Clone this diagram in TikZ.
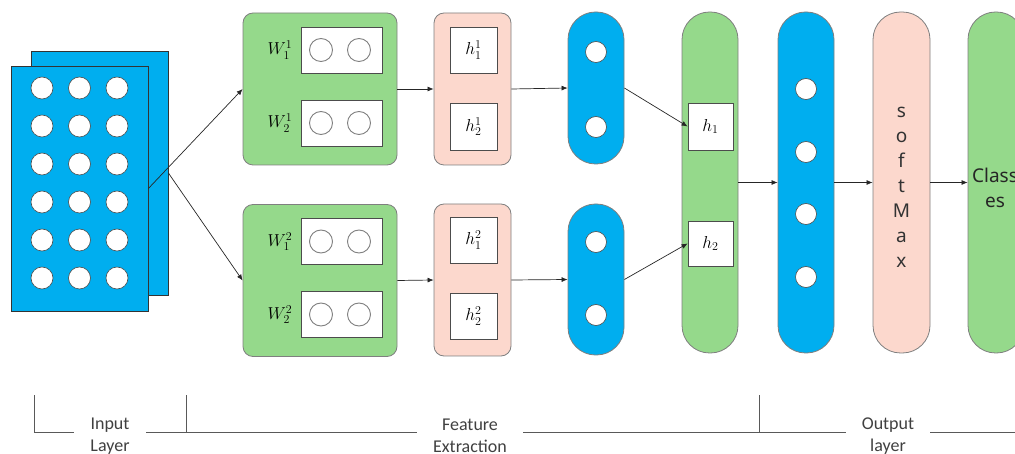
\documentclass[tikz,border=0pt]{standalone}
\usepackage{fontspec}
\setmainfont{Carlito}
\newfontfamily\pillfont{Noto Sans}
\usetikzlibrary{arrows.meta}
\definecolor{cblue}{HTML}{00AEEF}
\definecolor{cgreen}{HTML}{95D98B}
\definecolor{cpink}{HTML}{FCD8CD}
\definecolor{cedge}{HTML}{7F7F7F}
\begin{document}
\begin{tikzpicture}[x=1pt,y=-1pt,
  sheet/.style={rectangle, draw=black!80, fill=cblue, line width=0.8pt, minimum width=137pt, minimum height=244pt, inner sep=0pt},
  dot/.style={circle, draw=black!70, fill=white, line width=0.6pt, minimum size=22pt, inner sep=0pt},
  ring/.style={circle, draw=black!50, fill=white, line width=0.9pt, minimum size=23pt, inner sep=0pt},
  panel/.style={rectangle, rounded corners=10pt, draw=cedge, line width=0.8pt, minimum width=#1, minimum height=152pt, inner sep=0pt},
  wbox/.style={rectangle, draw=black!70, fill=white, line width=0.8pt, inner sep=0pt},
  pill/.style={rectangle, rounded corners=27.5pt, draw=cedge, line width=0.8pt, minimum width=56pt, inner sep=0pt},
  arr/.style={-{Latex[length=6pt,width=5pt]}, draw=black!85, line width=0.7pt},
  mlab/.style={font=\fontsize{17}{20}\selectfont, inner sep=0pt},
  blab/.style={font=\fontsize{18}{22}\selectfont, text=black!75, fill=white, align=center, inner xsep=16pt, inner ysep=1pt},
  brk/.style={draw=black!65, line width=0.8pt}
]
\useasboundingbox (0,0) rectangle (1015,454);

% input sheets
\node[sheet] (back) at (99.5,173) {};
\node[sheet, minimum height=245pt] (front) at (79.5,188.5) {};
\foreach \r/\yy in {1/88,2/126,3/164,4/202,5/240,6/278}{
  \foreach \c/\xx in {1/42,2/79.5,3/117}{
    \node[dot] (in\r\c) at (\xx,\yy) {};
  }
}

% weight panels
\node[panel=154pt, fill=cgreen] (g1) at (320,89) {};
\node[panel=154pt, fill=cgreen] (g2) at (320,280.5) {};
\foreach \g/\ya/\yb/\s in {1/50/123/1,2/241.5/314.5/2}{
  \node[wbox, minimum width=81pt, minimum height=46pt] (wb\g a) at (341.5,\ya) {};
  \node[wbox, minimum width=81pt, minimum height=46pt] (wb\g b) at (341.5,\yb) {};
  \node[ring] (r\g a1) at (321,\ya) {};
  \node[ring] (r\g a2) at (359,\ya) {};
  \node[ring] (r\g b1) at (321,\yb) {};
  \node[ring] (r\g b2) at (359,\yb) {};
  \node[mlab] (w\g a) at (280,\ya) {$W_1^{\s}$};
  \node[mlab] (w\g b) at (280,\yb) {$W_2^{\s}$};
}

% hidden panels
\node[panel=77pt, fill=cpink] (p1) at (472.5,89) {};
\node[panel=77pt, fill=cpink] (p2) at (472.5,280) {};
\node[wbox, minimum width=47pt, minimum height=46pt, mlab] (h11) at (473.5,50) {$h_1^1$};
\node[wbox, minimum width=47pt, minimum height=47pt, mlab] (h12) at (473.5,126.5) {$h_2^1$};
\node[wbox, minimum width=47pt, minimum height=46pt, mlab] (h21) at (473.5,240) {$h_1^2$};
\node[wbox, minimum width=47pt, minimum height=46pt, mlab] (h22) at (473.5,316) {$h_2^2$};

% small blue pills
\node[pill, fill=cblue, minimum height=152pt] (b1) at (596,88) {};
\node[pill, fill=cblue, minimum height=151pt] (b2) at (596,279.5) {};
\node[dot, minimum size=21pt] (b1u) at (596,52) {};
\node[dot, minimum size=21pt] (b1d) at (596,127) {};
\node[dot, minimum size=21pt] (b2u) at (596,242) {};
\node[dot, minimum size=21pt] (b2d) at (596,315) {};

% merge pill
\node[pill, fill=cgreen, minimum height=341pt] (m) at (710,182.5) {};
\node[wbox, minimum width=45pt, minimum height=47pt, mlab] (hh1) at (710.5,126.5) {$h_1$};
\node[wbox, minimum width=45pt, minimum height=45pt, mlab] (hh2) at (710.5,243.5) {$h_2$};

% dense pill
\node[pill, fill=cblue, minimum height=341pt] (d) at (806,182.5) {};
\foreach \i/\yy in {1/89,2/152,3/214,4/277}{
  \node[dot, minimum size=21pt] (d\i) at (806,\yy) {};
}

% softmax
\node[pill, fill=cpink, minimum height=341pt, minimum width=57pt] (sm) at (901.5,182.5) {};
\node[font=\pillfont\fontsize{19}{25}\selectfont, text=black!80, align=center, inner sep=0pt] (smt) at (901.5,187) {s\\o\\f\\t\\M\\a\\x};

% classes
\node[pill, fill=cgreen, minimum height=341pt] (cl) at (996,182.5) {};
\node[font=\pillfont\fontsize{19}{25}\selectfont, text=black!85, align=center, inner sep=0pt] (clt) at (995,188) {Class\\es};

% connectors
\draw[arr] (front.east) -- (g1.west);
\draw[arr] (back.east) -- (g2.west);
\draw[arr] (g1.east) -- (p1.west);
\draw[arr] (g2.east) -- (p2.west);
\draw[arr] (p1.east) -- (b1.west);
\draw[arr] (p2.east) -- (b2.west);
\draw[arr] (b1.east) -- (hh1.west);
\draw[arr] (b2.east) -- (hh2.west);
\draw[arr] (m.east) -- (d.west);
\draw[arr] (d.east) -- (sm.west);
\draw[arr] (sm.east) -- (cl.west);

% bottom bracket
\coordinate (k0) at (34,395);
\coordinate (k1) at (186,395);
\coordinate (k2) at (759,395);
\coordinate (kend) at (1016,432);
\draw[brk] (k0) |- (kend);
\draw[brk] (k1) -- ++(0,37);
\draw[brk] (k2) -- ++(0,37);
\node[blab] (lin) at (110,436) {Input\\Layer};
\node[blab] (lfe) at (470,436) {Feature\\Extraction};
\node[blab] (lout) at (888,436) {Output\\layer};
\end{tikzpicture}
\end{document}
